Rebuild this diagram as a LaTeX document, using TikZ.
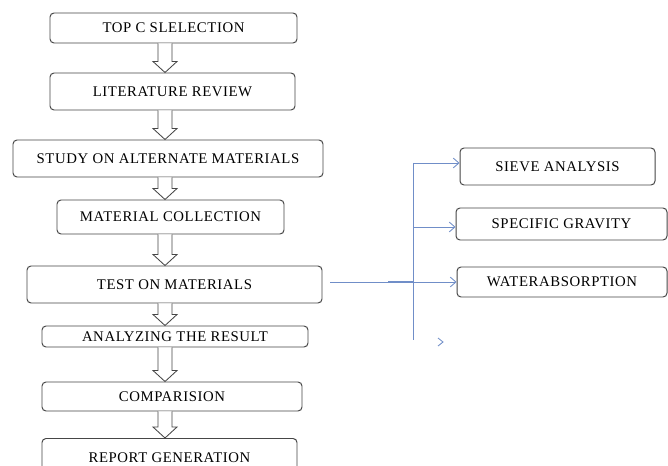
\documentclass[tikz,border=0pt]{standalone}
\usepackage{fontspec}
\setmainfont[LetterSpace=4]{Liberation Serif}
\usetikzlibrary{calc,arrows.meta}

\definecolor{linkblue}{RGB}{112,142,200}
\definecolor{boxgray}{RGB}{70,70,70}

\newdimen\px \px=0.025cm % one pixel of the layout

% hollow block arrow from one stage down to the next
\newcommand{\hollowdown}[2]{%
  \draw[hollow] ($(#1.south -| ax)+(-7,0)$) -- ($(#2.north -| ax)+(-7,-11)$) -- ++(-5,0)
    -- (#2.north -| ax) -- ($(#2.north -| ax)+(12,-11)$) -- ++(-5,0) -- ($(#1.south -| ax)+(7,0)$);}

\begin{document}
\begin{tikzpicture}[
        x=\px, y=-\px, % one unit = one pixel, y runs down
        stage/.style={draw=boxgray, line width=0.7pt, rounded corners=4\px, inner sep=0pt,
                      font=\fontsize{10.5}{12}\selectfont}, % boxes of the flow
        hollow/.style={draw=boxgray, line width=0.6pt, fill=white},
        link/.style={draw=linkblue, line width=0.6pt},
        tip/.style={-{Straight Barb[length=4pt,width=7pt]}},
    ]
    \clip (0,0) rectangle (668,465);
    \path[fill=white] (0,0) rectangle (668,465);
    \coordinate (ax) at (165,0);

    % main flow
    \node[stage, minimum width=247\px, minimum height=30\px] (topic) at (173.5,28) {TOP C SLELECTION};
    \node[stage, minimum width=245\px, minimum height=37\px] (lit) at (172.5,91.5) {LITERATURE REVIEW};
    \node[stage, minimum width=310\px, minimum height=37\px] (study) at (168,158.5) {STUDY ON ALTERNATE MATERIALS};
    \node[stage, minimum width=227\px, minimum height=34\px] (collect) at (170.5,217) {MATERIAL COLLECTION};
    \node[stage, minimum width=295\px, minimum height=37\px] (test) at (174.5,284.5) {TEST ON MATERIALS};
    \node[stage, minimum width=266\px, minimum height=21\px] (analyse) at (175,336.5) {ANALYZING THE RESULT};
    \node[stage, minimum width=260\px, minimum height=29\px] (compare) at (172,396.5) {COMPARISION};
    \node[stage, minimum width=255\px, minimum height=38\px, anchor=north] (report) at (169.5,438) {REPORT GENERATION};

    \hollowdown{topic}{lit}
    \hollowdown{lit}{study}
    \hollowdown{study}{collect}
    \hollowdown{collect}{test}
    \hollowdown{test}{analyse}
    \hollowdown{analyse}{compare}
    \hollowdown{compare}{report}

    % tests on materials
    \node[stage, minimum width=195\px, minimum height=37\px] (sieve) at (557.5,166.5) {SIEVE ANALYSIS};
    \node[stage, minimum width=211\px, minimum height=32\px] (gravity) at (561.5,224) {SPECIFIC GRAVITY};
    \node[stage, minimum width=210\px, minimum height=30\px] (water) at (562,282) {WATERABSORPTION};

    \coordinate (btop) at (413,163);
    \coordinate (bmid) at (413,227);
    \coordinate (bbot) at (413,340);
    \coordinate (stray) at (443,342);

    \draw[link] (btop) -- (bbot);
    \draw[link, tip] (btop) -- (btop -| sieve.west);
    \draw[link, tip] (bmid) -- (bmid -| gravity.west);
    \draw[link, tip, shorten <=8\px] (test.east |- water.west) -- (water.west);
    \draw[link, line width=1.3pt] ($(bmid |- water.west)+(-25,0)$) -- (bmid |- water.west);
    \draw[link] ($(stray)+(-5,-4)$) -- (stray) -- ($(stray)+(-5,4)$);
\end{tikzpicture}
\end{document}
